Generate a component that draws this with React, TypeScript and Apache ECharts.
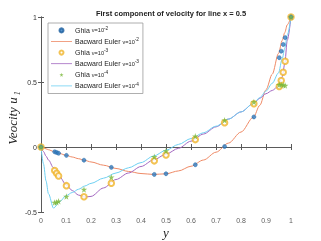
import React, { useEffect, useRef } from "react";
import * as echarts from "echarts";

const ghiaY = [0, 0.0547, 0.0625, 0.0703, 0.1016, 0.1719, 0.2813, 0.4531, 0.5, 0.6172, 0.7344, 0.8516, 0.9531, 0.9609, 0.9688, 0.9766, 1];
const ghiaU2 = [0, -0.03717, -0.04192, -0.04775, -0.06434, -0.1015, -0.15662, -0.2109, -0.20581, -0.13641, 0.00332, 0.23151, 0.68717, 0.73722, 0.78871, 0.84123, 1];
const ghiaU3 = [0, -0.18109, -0.20196, -0.2222, -0.2973, -0.38289, -0.27805, -0.10648, -0.0608, 0.05702, 0.18719, 0.33304, 0.46604, 0.51117, 0.57492, 0.65928, 1];
const ghiaU4 = [0, -0.42735, -0.42537, -0.41657, -0.38, -0.32709, -0.23186, -0.0754, -0.03111, 0.08344, 0.20673, 0.34635, 0.47804, 0.4807, 0.47783, 0.47221, 1];

const beY = [0, 0.01, 0.02, 0.03, 0.05, 0.075, 0.1, 0.125, 0.15, 0.175, 0.2, 0.25, 0.3, 0.35, 0.4, 0.45, 0.5, 0.55, 0.6, 0.65, 0.7, 0.75, 0.8, 0.85, 0.875, 0.9, 0.925, 0.95, 0.965, 0.975, 0.985, 1];
const beU2 = [0, -0.007, -0.014, -0.021, -0.034, -0.05, -0.064, -0.077, -0.09, -0.103, -0.115, -0.14, -0.165, -0.188, -0.204, -0.211, -0.206, -0.184, -0.148, -0.1, -0.04, 0.03, 0.115, 0.23, 0.32, 0.44, 0.56, 0.72, 0.82, 0.88, 0.94, 1];
const beU3 = [0, -0.035, -0.07, -0.1, -0.16, -0.23, -0.29, -0.335, -0.37, -0.385, -0.38, -0.315, -0.25, -0.2, -0.15, -0.1, -0.055, -0.01, 0.045, 0.1, 0.155, 0.215, 0.27, 0.335, 0.375, 0.41, 0.435, 0.47, 0.54, 0.64, 0.82, 1];
const beU4 = [0, -0.13, -0.26, -0.36, -0.47, -0.42, -0.375, -0.35, -0.325, -0.3, -0.28, -0.24, -0.2, -0.16, -0.12, -0.07, -0.025, 0.02, 0.065, 0.11, 0.16, 0.215, 0.27, 0.335, 0.38, 0.43, 0.49, 0.57, 0.68, 0.76, 0.86, 1];

const xTickValues = [0, 0.1, 0.2, 0.3, 0.4, 0.5, 0.6, 0.7, 0.8, 0.9, 1];
const xTickLabels = ["0", "0.1", "0.2", "0.3", "0.4", "0.5", "0.6", "0.7", "0.8", "0.9", "1"];
const yTickValues = [-0.5, 0, 0.5, 1];
const yTickLabels = ["-0.5", "0", "0.5", "1"];

const legendLabels: Record<string, string> = {
  g2: "{t|Ghia }{n|ν=10}{s|-2}",
  b2: "{t|Bacward Euler }{n|ν=10}{s|-2}",
  g3: "{t|Ghia }{n|ν=10}{s|-3}",
  b3: "{t|Bacward Euler }{n|ν=10}{s|-3}",
  g4: "{t|Ghia }{n|ν=10}{s|-4}",
  b4: "{t|Bacward Euler }{n|ν=10}{s|-4}",
};

const star = "path://M50,0 L61,35 L98,35 L68,57 L79,91 L50,70 L21,91 L32,57 L2,35 L39,35 Z";
const lineIcon = "path://M0,0 L42,0 L42,1.6 L0,1.6 Z";
const zip = (xs: number[], ys: number[]) => xs.map((x, i) => [x, ys[i]]);
const labelOf = (vals: number[], labels: string[]) => (v: number) => {
  const i = vals.findIndex((t) => Math.abs(t - v) < 1e-6);
  return i >= 0 ? labels[i] : "";
};

export default function App() {
  const ref = useRef<HTMLDivElement>(null);
  useEffect(() => {
    if (!ref.current) return;
    const chart = echarts.init(ref.current, null, { renderer: "svg" });
    const axisColor = "#5a5a5a";
    const font = "'Liberation Sans', Arial, sans-serif";
    const serif = "'Liberation Serif', 'Times New Roman', serif";
    const yMin = yTickValues[0];
    const lineSeries = (name: string, data: number[], color: string) => ({
      name,
      type: "line",
      data: zip(beY, data),
      symbol: "none",
      showSymbol: false,
      smooth: 0.3,
      smoothMonotone: "x",
      lineStyle: { color, width: 1 },
      itemStyle: { color },
      z: 2,
    });
    const baseX = {
      type: "value", min: 0, max: 1, interval: 0.1,
      axisLine: { lineStyle: { color: axisColor, width: 1 } },
      axisTick: { inside: true, length: 3, interval: 0, lineStyle: { color: axisColor } },
      splitLine: { show: false },
    };
    const baseY = {
      type: "value", min: -0.5, max: 1, interval: 0.5,
      axisLine: { show: true, lineStyle: { color: axisColor, width: 1 } },
      axisTick: { show: true, inside: true, length: 3, lineStyle: { color: axisColor } },
      splitLine: { show: false },
    };
    chart.setOption({
      animation: false,
      title: {
        text: "First component of velocity for line x = 0.5",
        left: 166,
        textAlign: "center",
        top: 4,
        textStyle: { fontSize: 7.5, fontWeight: "bold", color: "#222", fontFamily: font },
      },
      grid: { left: 41, right: 30, top: 17, bottom: 29, containLabel: false },
      xAxis: [
        { ...baseX, axisLabel: { show: false } },
        { ...baseX, position: "top", axisLabel: { show: false } },
      ],
      yAxis: [
        {
          ...baseY,
          axisLabel: {
            fontSize: 7, color: "#333", margin: 4, fontFamily: font,
            formatter: labelOf(yTickValues, yTickLabels),
          },
        },
        { ...baseY, position: "right", axisLabel: { show: false } },
      ],
      legend: {
        data: [
          { name: "g2" },
          { name: "b2", icon: lineIcon },
          { name: "g3" },
          { name: "b3", icon: lineIcon },
          { name: "g4" },
          { name: "b4", icon: lineIcon },
        ],
        orient: "vertical",
        left: 48,
        top: 23,
        padding: [3, 4, 3, 3],
        itemGap: 2.1,
        itemWidth: 21,
        itemHeight: 4,
        backgroundColor: "#fff",
        borderColor: "#9a9a9a",
        borderWidth: 0.8,
        borderRadius: 0,
        formatter: (n: string) => legendLabels[n],
        textStyle: {
          fontFamily: font,
          color: "#222",
          padding: [0, 0, 0, -2],
          rich: {
            t: { fontSize: 7, lineHeight: 8.8, fontFamily: font, color: "#222" },
            n: { fontSize: 5.6, lineHeight: 8.8, fontFamily: font, color: "#222" },
            s: { fontSize: 4.7, lineHeight: 8.8, fontFamily: font, color: "#222", verticalAlign: "top", padding: [0, 0, 4, 0] },
          },
        },
      },
      graphic: [
        {
          type: "text",
          x: 12,
          y: 118,
          rotation: Math.PI / 2,
          style: {
            text: "{a|Veocity u}{b|1}",
            align: "center",
            verticalAlign: "middle",
            rich: {
              a: { fontSize: 13, fontStyle: "italic", fontFamily: serif, fill: "#222", lineHeight: 18 },
              b: { fontSize: 8, fontStyle: "italic", fontFamily: serif, fill: "#222", lineHeight: 18, verticalAlign: "bottom", padding: [6, 0, 0, 2] },
            },
          },
        },
        {
          type: "text",
          x: 166,
          y: 232,
          style: {
            text: "y",
            align: "center",
            verticalAlign: "middle",
            fontSize: 13,
            fontStyle: "italic",
            fontFamily: serif,
            fill: "#222",
          },
        },
      ],
      series: [
        {
          name: "xticks", type: "scatter", data: xTickValues.map((v) => [v, yMin]),
          symbolSize: 0.01, silent: true, clip: false, z: 1,
          itemStyle: { color: "rgba(0,0,0,0)" },
          label: {
            show: true, position: "bottom", distance: 5,
            fontSize: 7, color: "#333", fontFamily: font,
            formatter: (p: any) => xTickLabels[p.dataIndex],
          },
        },
        {
          name: "g2", type: "scatter", data: zip(ghiaY, ghiaU2), symbol: "circle", symbolSize: 4,
          itemStyle: { color: "#2f7cc0", borderColor: "#1b5e9e", borderWidth: 0.6 }, z: 4,
        },
        lineSeries("b2", beU2, "#ee8a66"),
        {
          name: "g3", type: "scatter", data: zip(ghiaY, ghiaU3), symbol: "emptyCircle", symbolSize: 5.5,
          itemStyle: { color: "#f0b429", borderColor: "#f0b429", borderWidth: 0.9 }, z: 3,
        },
        lineSeries("b3", beU3, "#a368c0"),
        {
          name: "g4", type: "scatter", data: zip(ghiaY, ghiaU4), symbol: star, symbolSize: 6.5,
          itemStyle: { color: "#7ab83a" }, z: 5,
        },
        lineSeries("b4", beU4, "#6fd0f2"),
      ],
    });
    return () => chart.dispose();
  }, []);
  return <div ref={ref} style={{ position: "fixed", left: 0, top: 0, width: 321, height: 241 }} />;
}
